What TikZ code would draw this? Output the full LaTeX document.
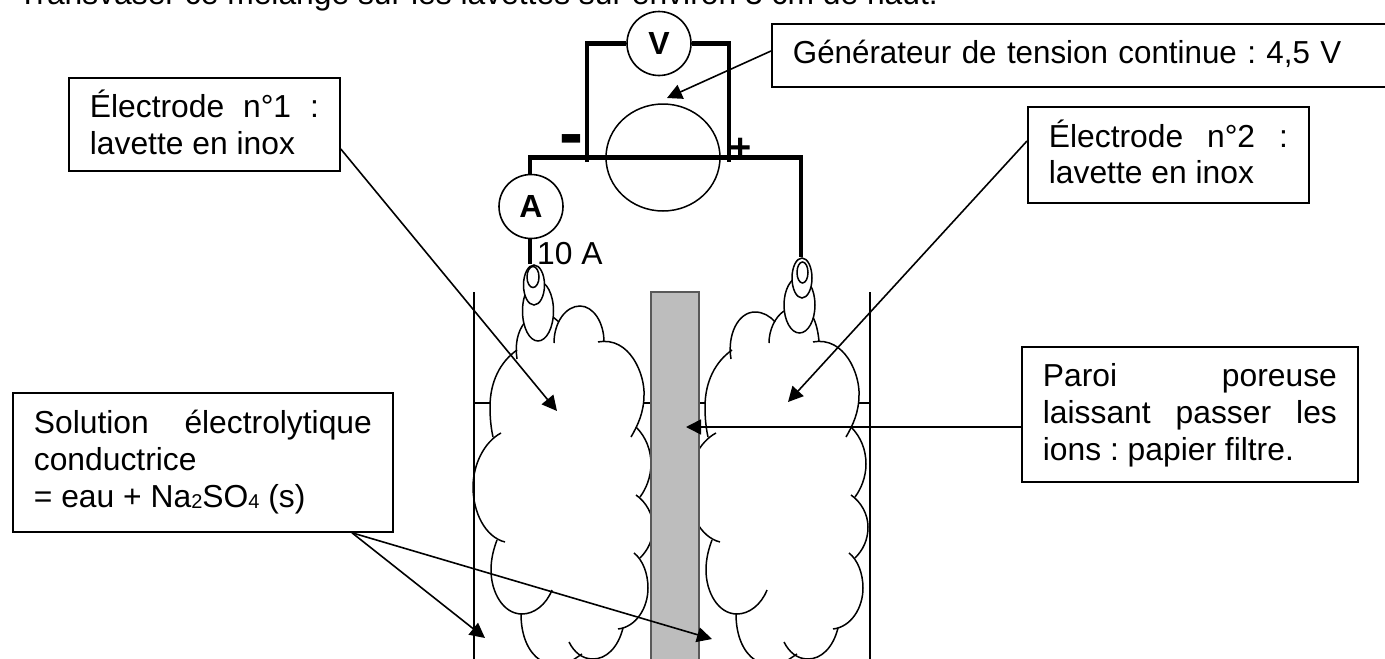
\documentclass[tikz,border=0pt]{standalone}
\usepackage{fontspec}
\setmainfont{Liberation Sans}
\usetikzlibrary{arrows.meta}
\usetikzlibrary{shapes.geometric}

\tikzset{
  wire/.style={line width=4.8pt},
  lobe/.style={line width=1.5pt},
  wall/.style={line width=1.6pt},
  pointer/.style={line width=1.6pt,-{Triangle[length=15pt,width=15pt]}},
  labelbox/.style={draw,line width=1.8pt,fill=white,align=justify,anchor=north west,inner ysep=0pt,inner xsep=21pt},
  plain/.style={inner sep=0pt,anchor=base west},
  meter/.style={draw,circle,fill=white,line width=1.6pt,minimum size=64pt,inner sep=0pt,font=\fontsize{32}{36}\selectfont\bfseries},
  clip part/.style={draw,ellipse,fill=white,line width=1.5pt,inner sep=0pt},
}
\newcommand{\boxtext}[2]{\rule{0pt}{40pt}#2\rule[-#1pt]{0pt}{#1pt}}
\newcommand{\lowered}[1]{\raisebox{-1.5pt}{\fontsize{20}{20}\selectfont #1}}
\newcommand{\cloudlobes}{
  \draw[lobe] (598,342) .. controls (630,336) and (645,375) .. (644,395) .. controls (644,412) and (638,425) .. (631,437);
  \draw[lobe] (636,427) .. controls (646,437) and (651,450) .. (651,464) .. controls (651,477) and (646,489) .. (640,497);
  \draw[lobe] (636,495) .. controls (646,502) and (653,514) .. (653,527) .. controls (653,540) and (648,550) .. (640,558);
  \draw[lobe] (634,553) .. controls (643,560) and (648,574) .. (648,588) .. controls (648,608) and (636,627) .. (618,629);
  \draw[lobe] (623,628) .. controls (618,648) and (606,659) .. (593,659) .. controls (582,659) and (574,652) .. (569,642);
  \draw[lobe] (573,660) -- (582,654);
  \draw[lobe] (521,614) .. controls (521,635) and (528,652) .. (540,660);
  \draw[lobe] (552,590) .. controls (546,605) and (534,614) .. (522,614) .. controls (503,614) and (491,592) .. (491,570) .. controls (491,558) and (494,548) .. (497,540);
  \draw[lobe] (505,542) .. controls (485,537) and (473,512) .. (473,487) .. controls (473,465) and (484,442) .. (501,433);
  \draw[lobe] (493,437) .. controls (491,428) and (490,418) .. (490,407) .. controls (490,382) and (500,362) .. (517,350);
}

\begin{document}
\begin{tikzpicture}[x=1pt,y=-1pt,font=\fontsize{31.8}{36.7}\selectfont\frenchspacing]
  \clip (0,0) rectangle (1385,659);
  \node[plain] (consigne) at (18,4) {Transvaser ce mélange sur les lavettes sur environ 3 cm de haut.};
  % vessel
  \draw[wall] (474,292) -- (474,659);
  \draw[wall] (870,292) -- (870,659);
  \draw[wall] (474,403) -- (490,403);
  \draw[wall] (644,403) -- (651,403);
  \draw[wall] (699,403) -- (705,403);
  \draw[wall] (859,403) -- (870,403);
  % lavettes
  \cloudlobes
  \begin{scope}[shift={(215,0)}]
    \cloudlobes
  \end{scope}
  \draw[lobe] (517,359) .. controls (515,345) and (517,332) .. (525,322);
  \draw[lobe] (554,343) .. controls (554,322) and (566,306) .. (580,306) .. controls (593,306) and (604,322) .. (604,342);
  \draw[lobe] (553,317) -- (559,322);
  \draw[lobe] (731,359) .. controls (727,335) and (738,312) .. (755,312) .. controls (763,312) and (770,316) .. (775,322);
  \draw[lobe] (769,343) .. controls (769,330) and (775,317) .. (784,311);
  \draw[lobe] (813,317) .. controls (816,323) and (818,331) .. (819,341);
  % paper wall
  \draw[wall,draw=black!65,fill=black!26] (651,292) rectangle (699,662);
  % clips
  \node[clip part,minimum width=31pt,minimum height=60pt] (clipAout) at (538,311) {};
  \node[clip part,minimum width=21pt,minimum height=40pt] (clipAmid) at (534,285) {};
  \node[clip part,minimum width=12pt,minimum height=21pt] (clipAin) at (533,277) {};
  \node[clip part,minimum width=31pt,minimum height=56pt] (clipBout) at (799.5,305) {};
  \node[clip part,minimum width=20pt,minimum height=40pt] (clipBmid) at (802,278) {};
  \node[clip part,minimum width=11pt,minimum height=21pt] (clipBin) at (802.5,272.5) {};
  % circuit
  \node[draw,ellipse,line width=1.5pt,minimum width=114pt,minimum height=107pt,inner sep=0pt] (generator) at (663,157.5) {};
  \node[meter] (ammeter) at (531,206.5) {A};
  \node[meter] (voltmeter) at (659,43.5) {V};
  \coordinate (cornerR) at (801,157.5);
  \coordinate (frameL) at (587,162);
  \coordinate (frameR) at (729,162);
  \draw[wire] (ammeter.north -| 530,0) |- (cornerR) -- (clipBmid.north -| cornerR);
  \draw[wire] (ammeter.south -| 530,0) -- (clipAmid.north -| 530,0);
  \draw[wire] (frameL) |- (voltmeter.west);
  \draw[wire] (voltmeter.east) -| (frameR);
  \node[inner sep=0pt,anchor=base,font=\fontsize{72}{72}\selectfont\bfseries] (minus) at (571,157) {-};
  \node[inner sep=0pt,anchor=base,font=\fontsize{38}{38}\selectfont\bfseries] (plus) at (741,160) {+};
  \node[plain] (calibre) at (537,264) {10 A};
  % labels
  \node[labelbox,text width=229pt,minimum height=92pt] (electrodeA) at (68,77) {\boxtext{16}{Électrode n°1 :\linebreak lavette en inox}};
  \node[labelbox,text width=239pt,minimum height=96pt] (electrodeB) at (1027,106) {\boxtext{19}{Électrode n°2 :\linebreak lavette en inox}};
  \node[labelbox,text width=590pt,minimum height=63pt,align=left] (generatorbox) at (771,23) {\boxtext{23}{\scalebox{0.985}[1]{Générateur de tension continue : 4,5 V}}};
  \node[labelbox,text width=294pt,minimum height=135pt] (paroi) at (1021,346) {\boxtext{22}{Paroi poreuse\linebreak laissant passer les\linebreak ions : papier filtre.}};
  \node[labelbox,text width=338pt,minimum height=139pt] (solution) at (12,392) {\boxtext{24}{Solution électrolytique\linebreak conductrice\\= eau + Na\lowered{2}SO\lowered{4} (s)}};
  % pointers
  \coordinate (tipGen) at (667,98);
  \coordinate (tipA) at (557,411);
  \coordinate (tipB) at (788,402);
  \coordinate (tipParoi) at (686,427);
  \coordinate (tipSolA) at (485,638);
  \coordinate (tipSolB) at (712,639);
  \draw[pointer] (generatorbox.west |- 0,51) -- (tipGen);
  \draw[pointer] (electrodeA.east |- 0,149) -- (tipA);
  \draw[pointer] (electrodeB.west |- 0,141) -- (tipB);
  \draw[pointer] (paroi.west |- 0,427) -- (tipParoi);
  \draw[pointer] (solution.south -| 352,0) -- (tipSolA);
  \draw[pointer] (solution.south -| 352,0) -- (tipSolB);
\end{tikzpicture}
\end{document}
